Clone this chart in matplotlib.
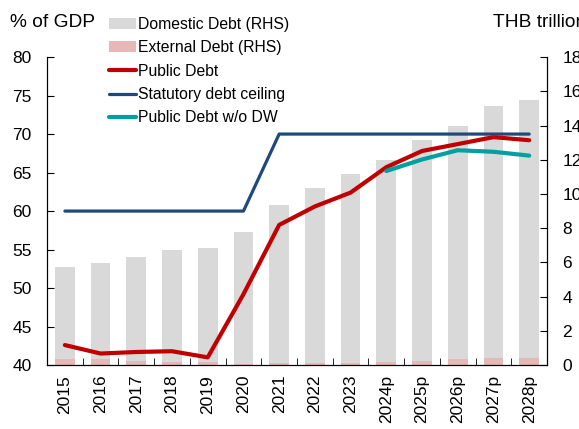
import numpy as np
import matplotlib.pyplot as plt

plt.rcParams['font.family'] = ['Liberation Sans', 'DejaVu Sans']

years = ['2015', '2016', '2017', '2018', '2019', '2020', '2021', '2022', '2023',
         '2024p', '2025p', '2026p', '2027p', '2028p']
total_debt = [5.73, 5.95, 6.34, 6.73, 6.87, 7.80, 9.36, 10.37, 11.16, 12.01, 13.16, 14.00, 15.15, 15.49]  # THB tn
external_debt = [0.33, 0.33, 0.25, 0.19, 0.19, 0.08, 0.14, 0.14, 0.14, 0.19, 0.25, 0.33, 0.43, 0.43]
domestic_debt = [t - e for t, e in zip(total_debt, external_debt)]
public_debt = [42.6, 41.5, 41.7, 41.8, 41.0, 49.2, 58.2, 60.6, 62.4, 65.7, 67.8, 68.7, 69.6, 69.2]  # % of GDP
debt_ceiling = [60, 60, 60, 60, 60, 60, 70, 70, 70, 70, 70, 70, 70, 70]
public_debt_wo_dw = [np.nan] * 9 + [65.2, 66.7, 67.9, 67.7, 67.2]

x = np.arange(len(years))

fig = plt.figure(figsize=(5.79, 4.29), dpi=100)
ax = fig.add_axes([0.0812, 0.149, 0.8636, 0.718])
ax2 = ax.twinx()
ax.set_zorder(ax2.get_zorder() + 1)
ax.patch.set_visible(False)

b1 = ax2.bar(x, domestic_debt, 0.55, bottom=external_debt, color='#d9d9d9', label='Domestic Debt (RHS)')
b2 = ax2.bar(x, external_debt, 0.55, color='#e6b9b8', label='External Debt (RHS)')

l1, = ax.plot(x, public_debt, color='#c00000', lw=3, label='Public Debt', solid_capstyle='round')
l2, = ax.plot(x, debt_ceiling, color='#1f497d', lw=2.3, label='Statutory debt ceiling', solid_capstyle='round')
l3, = ax.plot(x, public_debt_wo_dw, color='#00a0a0', lw=3, label='Public Debt w/o DW', solid_capstyle='round')

ax.set_xlim(-0.5, len(years) - 0.5)
ax.set_ylim(40, 80)
ax2.set_ylim(0, 18)
ax.set_yticks(range(40, 81, 5))
ax2.set_yticks(range(0, 19, 2))
ax.set_xticks(x)
ax.set_xticklabels(years, rotation=90)
ax.set_xticks(x[:-1] + 0.5, minor=True)

for a in (ax, ax2):
    a.spines['top'].set_visible(False)
ax.tick_params(axis='y', direction='in', length=5, pad=11, labelsize=12.5)
ax2.tick_params(axis='y', direction='in', length=5, pad=11, labelsize=12.5)
ax.tick_params(axis='x', which='major', length=0, pad=7, labelsize=12.5)
ax.tick_params(axis='x', which='minor', direction='in', length=5)

fig.text(0.017, 0.948, '% of GDP', fontsize=13.8, va='center')
fig.text(0.851, 0.948, 'THB trillion', fontsize=13.8, va='center')

fig.legend(handles=[b1, b2, l1, l2, l3], loc='upper left', bbox_to_anchor=(0.189, 0.96),
           frameon=False, fontsize=11.3, handlelength=1.7, handletextpad=0.1,
           labelspacing=0.53, borderpad=0, borderaxespad=0)

fig.savefig('out.png', dpi=100)
